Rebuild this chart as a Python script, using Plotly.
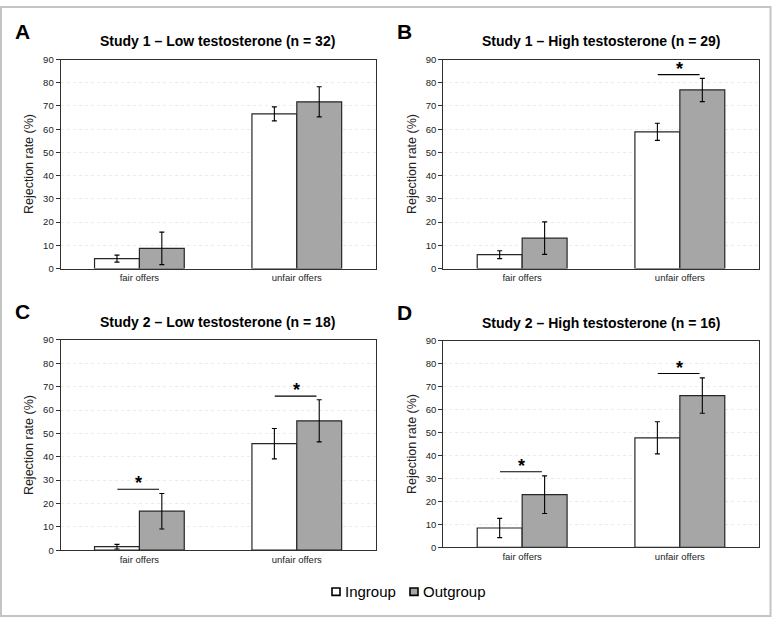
import plotly.graph_objects as go

W, H = 773, 623

# ---------------- data ----------------
categories = ["fair offers", "unfair offers"]
panel_letters = ["A", "B", "C", "D"]
panel_titles = [
    "Study 1 – Low testosterone (n = 32)",
    "Study 1 – High testosterone (n = 29)",
    "Study 2 – Low testosterone (n = 18)",
    "Study 2 – High testosterone (n = 16)",
]

ingroup_A = [4.3, 66.6]
ingroup_err_A = [1.5, 3.0]
outgroup_A = [8.7, 71.8]
outgroup_err_A = [7.0, 6.5]

ingroup_B = [6.0, 58.9]
ingroup_err_B = [1.7, 3.7]
outgroup_B = [13.1, 76.9]
outgroup_err_B = [7.0, 5.0]

ingroup_C = [1.5, 45.6]
ingroup_err_C = [1.0, 6.5]
outgroup_C = [16.7, 55.4]
outgroup_err_C = [7.6, 9.0]

ingroup_D = [8.4, 47.7]
ingroup_err_D = [4.2, 7.0]
outgroup_D = [22.9, 66.1]
outgroup_err_D = [8.2, 7.7]

# significance markers: (category, height of bracket)
sig_A = []
sig_B = [("unfair offers", 83.5)]
sig_C = [("fair offers", 26.1), ("unfair offers", 66.0)]
sig_D = [("fair offers", 32.9), ("unfair offers", 75.7)]

y_ticks = [0, 10, 20, 30, 40, 50, 60, 70, 80, 90]
y_title = "Rejection rate (%)"
series_names = ["Ingroup", "Outgroup"]

panels = [
    (ingroup_A, ingroup_err_A, outgroup_A, outgroup_err_A, sig_A),
    (ingroup_B, ingroup_err_B, outgroup_B, outgroup_err_B, sig_B),
    (ingroup_C, ingroup_err_C, outgroup_C, outgroup_err_C, sig_C),
    (ingroup_D, ingroup_err_D, outgroup_D, outgroup_err_D, sig_D),
]

# ---------------- layout geometry (pixels) ----------------
boxes = [
    (60.7, 54.5, 375.5, 267.3),
    (443.3, 54.5, 758.7, 267.3),
    (60.7, 340.0, 375.5, 554.0),
    (443.3, 340.7, 758.7, 551.0),
]

FONT = "Liberation Sans, Arial, sans-serif"
IN_COLOR = "#ffffff"
OUT_COLOR = "#a6a6a6"
EDGE = "#262626"


def px(x):
    return x / W


def py(y):
    return 1 - y / H


fig = go.Figure()
shapes = []
annotations = []

for i, (ing, ing_e, outg, out_e, sig) in enumerate(panels):
    n = "" if i == 0 else str(i + 1)
    xa, ya = "x" + n, "y" + n
    fig.add_trace(go.Bar(
        x=categories, y=ing, name=series_names[0], xaxis=xa, yaxis=ya,
        marker=dict(color=IN_COLOR, line=dict(color=EDGE, width=1.2)),
        error_y=dict(type="data", array=ing_e, color="black", thickness=1.1, width=2.5),
        showlegend=False,
    ))
    fig.add_trace(go.Bar(
        x=categories, y=outg, name=series_names[1], xaxis=xa, yaxis=ya,
        marker=dict(color=OUT_COLOR, line=dict(color=EDGE, width=1.2)),
        error_y=dict(type="data", array=out_e, color="black", thickness=1.1, width=2.5),
        showlegend=False,
    ))
    x0, y0, x1, y1 = boxes[i]
    fig.layout["xaxis" + n] = dict(
        domain=[px(x0), px(x1)], anchor=ya, type="category",
        categoryorder="array", categoryarray=categories,
        range=[-0.5, 1.5], showline=True, linecolor="#303030", linewidth=1.2,
        mirror=True, ticks="", showgrid=False,
        tickfont=dict(family=FONT, size=9.5, color="#222"),
    )
    fig.layout["yaxis" + n] = dict(
        domain=[py(y1), py(y0)], anchor=xa, range=[0, 90],
        tickvals=y_ticks, ticks="outside", ticklen=4, tickcolor="#303030",
        showline=True, linecolor="#303030", linewidth=1.2, mirror=True,
        showgrid=True, gridcolor="#ebebeb", griddash="dot", gridwidth=1,
        zeroline=False,
        tickfont=dict(family=FONT, size=9.5, color="#222"),
        title=dict(text=y_title, font=dict(family=FONT, size=12.5, color="#222"), standoff=6),
    )
    # panel letter
    annotations.append(dict(
        x=px(x0 - 48), y=py(y0 - 29), xref="paper", yref="paper",
        text="<b>%s</b>" % panel_letters[i], showarrow=False,
        xanchor="left", yanchor="middle",
        font=dict(family=FONT, size=21, color="black"),
    ))
    # panel title
    annotations.append(dict(
        x=px((x0 + x1) / 2 - 0.5), y=py(y0 - 18.5), xref="paper", yref="paper",
        text="<b>%s</b>" % panel_titles[i], showarrow=False,
        xanchor="center", yanchor="middle",
        font=dict(family=FONT, size=14, color="black"),
    ))
    # significance brackets
    for cat, yv in sig:
        ci = categories.index(cat)
        shapes.append(dict(
            type="line", xref=xa, yref=ya, x0=ci - 0.14, x1=ci + 0.125,
            y0=yv, y1=yv, line=dict(color="black", width=1.2),
        ))
        annotations.append(dict(
            x=ci - 0.005, y=yv, xref=xa, yref=ya, text="<b>*</b>",
            showarrow=False, xanchor="center", yanchor="bottom", yshift=-6,
            font=dict(family=FONT, size=18, color="black"),
        ))

# legend (drawn manually)
leg_items = [(332, IN_COLOR, series_names[0]),
             (410, OUT_COLOR, series_names[1])]
for lx, col, name in leg_items:
    shapes.append(dict(
        type="rect", xref="paper", yref="paper",
        x0=px(lx), x1=px(lx + 8), y0=py(600), y1=py(592.5),
        fillcolor=col, line=dict(color="black", width=1.6),
    ))
    annotations.append(dict(
        x=px(lx + 11), y=py(596.5), xref="paper", yref="paper", text=name,
        showarrow=False, xanchor="left", yanchor="middle",
        font=dict(family=FONT, size=15, color="black"),
    ))

# outer frame
shapes.append(dict(
    type="rect", xref="paper", yref="paper",
    x0=px(1), x1=px(770.5), y0=py(621), y1=py(1),
    line=dict(color="#c4c4c4", width=2), fillcolor="rgba(0,0,0,0)",
))

fig.update_layout(
    width=W, height=H,
    margin=dict(l=0, r=0, t=0, b=0),
    paper_bgcolor="white", plot_bgcolor="white",
    barmode="group", bargap=0.43, bargroupgap=0,
    showlegend=False,
    shapes=shapes, annotations=annotations,
    font=dict(family=FONT),
)

fig.write_html(
    "out.html",
    config={"displayModeBar": False},
    post_script="document.body.style.margin='0';document.body.style.overflow='hidden';",
)
